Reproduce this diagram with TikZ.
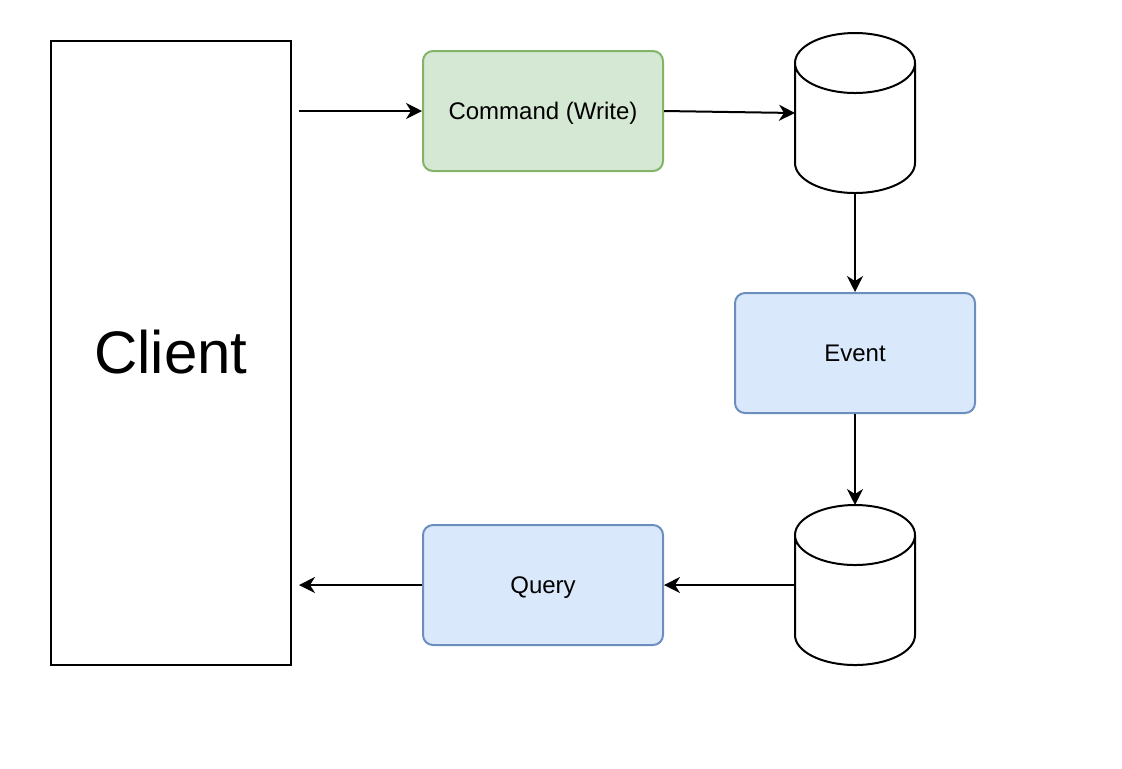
\documentclass[tikz,border=0pt]{standalone}
\usepackage{fontspec}
\setmainfont{Liberation Sans}
\usetikzlibrary{arrows.meta}
\definecolor{cmdfill}{HTML}{D5E8D4}
\definecolor{cmdline}{HTML}{82B366}
\definecolor{evfill}{HTML}{DAE8FC}
\definecolor{evline}{HTML}{6C8EBF}
\begin{document}
\begin{tikzpicture}[x=0.5pt,y=-0.5pt,line width=1pt,>={Stealth[length=8pt,width=8pt,inset=2.5pt]},
	client/.style={draw,minimum width=120pt,minimum height=312pt,font=\fontsize{30}{36}\selectfont,text height=27.1pt,text depth=6.4pt},
	box/.style={draw,rounded corners=5pt,minimum width=120pt,minimum height=60pt,font=\fontsize{12}{14}\selectfont,text height=10.9pt,text depth=2.5pt},
	write/.style={box,fill=cmdfill,draw=cmdline},
	read/.style={box,fill=evfill,draw=evline},
	store/.style={inner sep=0pt,outer sep=0pt,minimum width=60pt,minimum height=80pt}]
	\useasboundingbox (0,0) rectangle (1122,768);

	\node[client] at (171,353) (client) {Client};
	\node[write] at (543,111) (cmd) {Command (Write)};
	\node[read] at (855,353) (event) {Event};
	\node[read] at (543,585) (query) {Query};
	\node[store] at (855,113) (wdb) {};
	\node[store] at (855,585) (rdb) {};
	\coordinate (cin) at (299,111);
	\coordinate (cout) at (299,585);

	\foreach \s in {wdb,rdb}
		\draw[fill=white] ([yshift=-15pt]\s.north west) -- ([yshift=15pt]\s.south west)
			arc[start angle=180,end angle=360,x radius=30pt,y radius=15pt]
			-- ([yshift=-15pt]\s.north east)
			arc[start angle=0,end angle=180,x radius=30pt,y radius=15pt]
			arc[start angle=180,end angle=360,x radius=30pt,y radius=15pt];

	\draw[->]	(cin) -- (cmd);
	\draw[->]	(cmd.east) -- (wdb.west);
	\draw[->]	(wdb.south) -- (event.north);
	\draw[->]	(event.south) -- (rdb.north);
	\draw[->]	(rdb.west) -- (query.east);
	\draw[->]	(query.west) -- (cout);
\end{tikzpicture}
\end{document}
